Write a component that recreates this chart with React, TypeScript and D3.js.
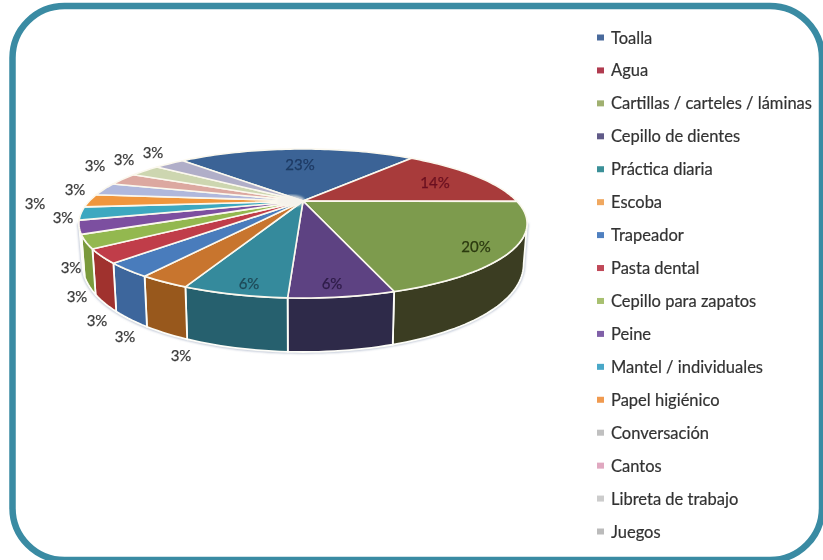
import React from "react";
import * as d3 from "d3";

const categories = ["Toalla","Agua","Cartillas / carteles / láminas","Cepillo de dientes","Práctica diaria","Escoba","Trapeador","Pasta dental","Cepillo para zapatos","Peine","Mantel / individuales","Papel higiénico","Conversación","Cantos","Libreta de trabajo","Juegos"];
const counts = [8,5,7,2,2,1,1,1,1,1,1,1,1,1,1,1];
const topColors = ["#3a6496","#a83a3a","#7d9b4e","#5d4382","#368a9c","#c8752e","#4a7cbc","#c03c4a","#93b850","#7c4fa0","#3ca8c0","#f0963c","#b0b8dc","#dca8a0","#cdd6b0","#b0aec8"];
const wallColors = ["#2c4c72","#7a2a2a","#3a3e22","#2e2a48","#27606e","#98591f","#3e669c","#a0302e","#7a9a3a","#5d3a78","#2c7f92","#b8702c","#8088a8","#a88078","#9aa284","#84829a"];
const legendColors = ["#4a6a9c","#b03a50","#a0b070","#605a88","#3a9098","#f0a860","#5080c0","#c04858","#a8c070","#8060a8","#48a8c8","#f09a50","#c0c0c0","#e0a8c0","#cccccc","#bbbbbb"];
const labelColors = ["#1f3a64","#6a1020","#2c3a10","#2e1c48","#1f4a58"];
const labelPositions: [number, number][] = [[300,164],[435,182],[476,246],[332,283],[249,283],[181,355],[125,336],[97,320],[77,296],[71,267],[63,217],[35,203],[75,189],[95,165],[124,159],[153,152]];

const W = 823, H = 560;
const apex = { x: 303, y: 201 };
const persp = 0.302, scaleX = 213.6, scaleY = 67.7;
const rad = Math.PI / 180;

function rim(a: number): [number, number] {
  const u = Math.sin(a), v = -Math.cos(a), w = 1 - persp * v;
  return [apex.x + (scaleX * u) / w, apex.y + (scaleY * v) / w];
}
function rimBottom(a: number): [number, number] {
  const [x, y] = rim(a);
  const v = -Math.cos(a);
  return [apex.x + (x - apex.x) * 0.985, y + 34 + 20 * v];
}
const arcs = d3.pie<number>().sort(null).startAngle(-43.4 * rad).endAngle(316.6 * rad)(counts);
const samples = (a0: number, a1: number) => {
  const n = Math.max(2, Math.ceil((a1 - a0) / (1.5 * rad)));
  return d3.range(n + 1).map((i) => a0 + ((a1 - a0) * i) / n);
};
const line = d3.line();
const wallMin = 107.6 * rad, wallMax = 252.4 * rad;
const wallPath = (a0: number, a1: number) => {
  const s = samples(a0, a1);
  return line([...s.map(rim), ...s.slice().reverse().map(rimBottom)]) + "Z";
};
const topPath = (a0: number, a1: number) =>
  line([[apex.x, apex.y], ...samples(a0, a1).map(rim)]) + "Z";
const pct = (v: number) => d3.format(".0f")((v / d3.sum(counts)) * 100) + "%";

const legendY = d3.scaleLinear().domain([0, categories.length - 1]).range([37.5, 531.5]);
const font = "Lato, Carlito, sans-serif";

export default function App() {
  return (
    <svg width={W} height={H} viewBox={`0 0 ${W} ${H}`} style={{ position: "absolute", left: 0, top: 0, display: "block", background: "#fff" }}>
      <defs>
        <filter id="soft" x="-5%" y="-5%" width="110%" height="110%"><feGaussianBlur stdDeviation="0.7" /></filter>
        <filter id="softer" x="-5%" y="-5%" width="110%" height="110%"><feGaussianBlur stdDeviation="1.2" /></filter>
      </defs>
      <rect x={12.5} y={6} width={809.5} height={554} rx={52} ry={52} fill="#fff" stroke="#3a8ba3" strokeWidth={6.5} />
      <g filter="url(#soft)">
        <path d={wallPath(wallMin, wallMax)} fill="#9aa4b8" stroke="#b8c0d0" strokeWidth={3} filter="url(#softer)" />
        {arcs.map((d, i) => {
          const a0 = Math.max(d.startAngle, wallMin), a1 = Math.min(d.endAngle, wallMax);
          return a1 > a0 ? <path key={i} d={wallPath(a0, a1)} fill={wallColors[i]} stroke="#fdfdf8" strokeWidth={1.8} /> : null;
        })}
        {arcs.map((d, i) => (
          <path key={i} d={topPath(d.startAngle, d.endAngle)} fill={topColors[i]} stroke="#fbf8ee" strokeWidth={1.6} strokeLinejoin="round" />
        ))}
        <ellipse cx={apex.x - 12} cy={apex.y} rx={14} ry={6} fill="#f4f1ea" opacity={0.75} filter="url(#softer)" />
        {arcs.map((d, i) => (
          <text key={i} x={labelPositions[i][0]} y={labelPositions[i][1]} textAnchor="middle" dominantBaseline="central" fontFamily={font} fontSize={15} stroke={labelColors[i] ?? "#3c3c3c"} strokeWidth={0.25} fill={labelColors[i] ?? "#3c3c3c"}>{pct(d.value)}</text>
        ))}
        {categories.map((c, i) => (
          <g key={c}>
            <rect x={597} y={legendY(i) - 3} width={7} height={6} fill={legendColors[i]} />
            <text x={611} y={legendY(i)} dominantBaseline="central" fontFamily={font} fontSize={16.5} stroke="#333" strokeWidth={0.2} fill="#333">{c}</text>
          </g>
        ))}
      </g>
    </svg>
  );
}
